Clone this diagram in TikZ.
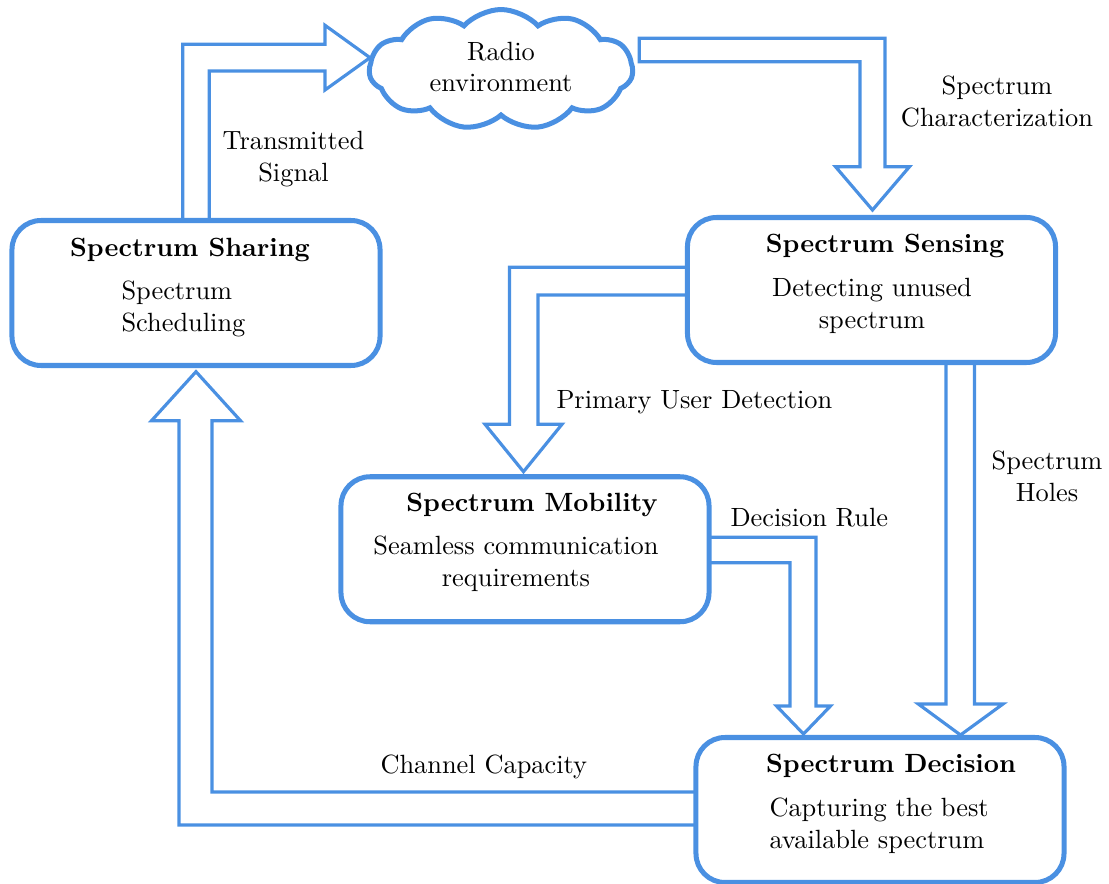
\documentclass[tikz,border=0pt]{standalone}
\usetikzlibrary{shapes.symbols}
\definecolor{cblue}{RGB}{74,144,226}
\newcommand\mystack[2][c]{\begin{tabular}[t]{@{}#1@{}}#2\end{tabular}}
\begin{document}
\begin{tikzpicture}[x=0.3793pt,y=-0.3793pt,
  box/.style={draw=cblue, line width=1.9pt, rounded corners=11pt, minimum width=139.6pt, minimum height=55pt, outer sep=0pt, inner sep=0pt},
  fat/.style={draw=cblue, line width=1.2pt, line join=miter},
  title/.style={font=\bfseries, anchor=base, inner sep=0pt},
  txt/.style={anchor=base, inner sep=0pt},
  lbl/.style={anchor=base west, inner sep=0pt},
  cloudy/.style={cloud, draw=cblue, line width=1.9pt, cloud puffs=11, cloud puff arc=95, aspect=2.2, minimum width=100pt, minimum height=45.5pt, inner sep=0pt, outer sep=0pt}]
\useasboundingbox (0,0) rectangle (1109,884);

% boxes
\node[box] (share) at (196,293) {};
\node[box] (sense) at (871.5,290) {};
\node[box] (mob) at (525,549.25) {};
\node[box] (dec) at (880,810) {};
\node[cloudy] (radio) at (501,69.5) {\mystack{Radio\\environment}};

% box texts
\node[title] (shareT) at (190,256.7) {Spectrum Sharing};
\node[lbl] (shareD) at (121,300) {\mystack[l]{Spectrum\\Scheduling}};
\node[title] (senseT) at (885,253) {Spectrum Sensing};
\node[txt] (senseD) at (872,296.7) {\mystack{Detecting unused\\spectrum}};
\node[title] (mobT) at (532,511.7) {Spectrum Mobility};
\node[txt] (mobD) at (516,555) {\mystack{Seamless communication\\requirements}};
\node[title] (decT) at (891,772.7) {Spectrum Decision};
\node[lbl] (decD) at (769,816.7) {\mystack[l]{Capturing the best\\available spectrum}};

% fat arrows
% Sharing -> Radio environment
\draw[fat] (182.7,0 |- share.north) -- (182.7,44.3) -- (325,44.3) -- (325,25.3) -- (370,57.7) -- (325,90) -- (325,71) -- (209.3,71) -- (209.3,0 |- share.north);
% Radio environment -> Sensing
\draw[fat] (639.3,38.3) -- (885,38.3) -- (885,166.7) -- (909.5,166.7) -- (872.5,210) -- (835.5,166.7) -- (860,166.7) -- (860,61.7) -- (639.3,61.7) -- cycle;
% Sensing -> Mobility
\draw[fat] (sense.west |- 0,267.3) -- (509.5,267.3) -- (509.5,424.3) -- (485,424.3) -- (523.5,471.7) -- (562,424.3) -- (538,424.3) -- (538,295) -- (sense.west |- 0,295);
% Sensing -> Decision
\draw[fat] (946,0 |- sense.south) -- (946,704) -- (918.3,704) -- (960.5,735) -- (1003,704) -- (974.5,704) -- (974.5,0 |- sense.south);
% Mobility -> Decision
\draw[fat] (mob.east |- 0,537.3) -- (816,537.3) -- (816,706) -- (830.5,706) -- (803.5,734) -- (776.5,706) -- (790,706) -- (790,562.7) -- (mob.east |- 0,562.7);
% Decision -> Sharing
\draw[fat] (dec.west |- 0,792) -- (212,792) -- (212,420.7) -- (240.5,420.7) -- (196,371.7) -- (151.5,420.7) -- (179,420.7) -- (179,825) -- (dec.west |- 0,825);

% arrow labels
\node[txt] (lTS) at (293.5,150) {\mystack{Transmitted\\Signal}};
\node[txt] (lSC) at (997,95) {\mystack{Spectrum\\Characterization}};
\node[lbl] (lPU) at (556,408.3) {Primary User Detection};
\node[txt] (lSH) at (1047,470) {\mystack{Spectrum\\Holes}};
\node[lbl] (lDR) at (730,527) {Decision Rule};
\node[lbl] (lCC) at (380,774) {Channel Capacity};
\end{tikzpicture}
\end{document}
